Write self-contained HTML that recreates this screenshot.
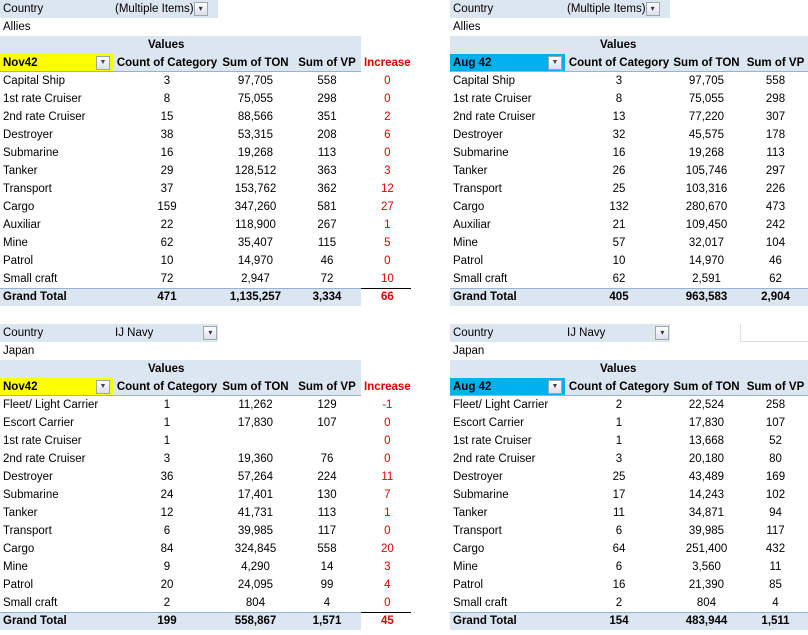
<!DOCTYPE html>
<html><head><meta charset="utf-8"><style>
body{margin:0;width:808px;height:635px;background:#fff;position:relative;overflow:hidden;font-family:"Liberation Sans",Arial,sans-serif;font-size:11.5px;color:#000}
table{position:absolute;border-collapse:collapse;table-layout:fixed;border-spacing:0}
tr{height:18px}
td{height:18px;box-sizing:border-box;padding:0 0 0 3px;white-space:nowrap;overflow:hidden;line-height:18px;text-align:center;border:none}
td.l{text-align:left}
.b{background:#dce6f1}
.bold{font-weight:bold}
.r{color:#e00000}
.hdr td{box-shadow:inset 0 -1px 0 #95b3d7}
.hdr td.inc{box-shadow:none}
.gt td{font-weight:bold;box-shadow:inset 0 1px 0 #95b3d7}
.gt td.inc{background:#fff;box-shadow:inset 0 1px 0 #000}
.y{background:#ffff00;font-weight:bold;text-align:left;position:relative}
.c{background:#00b0f0;font-weight:bold;text-align:left;position:relative}
.dd{position:absolute;right:3px;top:2px;width:12px;height:12px;border:1px solid #9aa;background:linear-gradient(#fff,#dde);font-size:7px;line-height:12px;text-align:center;color:#445}
.flt{display:inline-block;width:12px;height:12px;border:1px solid #9aa;background:linear-gradient(#fff,#dde);font-size:8px;line-height:12px;text-align:center;vertical-align:middle;color:#334}
</style></head><body>

<table style="left:0;top:0">
<colgroup><col style="width:113px"><col style="width:105px"><col style="width:72px"><col style="width:71px"><col style="width:49px"></colgroup>
<tr><td class="l b">Country</td><td class="l b" style="padding-left:2px">(Multiple Items)<span class="flt">▾</span></td><td></td><td></td><td></td></tr>
<tr><td class="l">Allies</td><td></td><td></td><td></td><td></td></tr>
<tr><td class="b"></td><td class="b bold" colspan="3" style="text-align:left;padding-left:35px">Values</td><td></td></tr>
<tr class="hdr"><td class="y">Nov42<span class="dd">▼</span></td><td class="b bold">Count of Category</td><td class="b bold">Sum of TON</td><td class="b bold">Sum of VP</td><td class="bold r inc">Increase</td></tr>
<tr><td class="l">Capital Ship</td><td>3</td><td>97,705</td><td>558</td><td class="r">0</td></tr>
<tr><td class="l">1st rate Cruiser</td><td>8</td><td>75,055</td><td>298</td><td class="r">0</td></tr>
<tr><td class="l">2nd rate Cruiser</td><td>15</td><td>88,566</td><td>351</td><td class="r">2</td></tr>
<tr><td class="l">Destroyer</td><td>38</td><td>53,315</td><td>208</td><td class="r">6</td></tr>
<tr><td class="l">Submarine</td><td>16</td><td>19,268</td><td>113</td><td class="r">0</td></tr>
<tr><td class="l">Tanker</td><td>29</td><td>128,512</td><td>363</td><td class="r">3</td></tr>
<tr><td class="l">Transport</td><td>37</td><td>153,762</td><td>362</td><td class="r">12</td></tr>
<tr><td class="l">Cargo</td><td>159</td><td>347,260</td><td>581</td><td class="r">27</td></tr>
<tr><td class="l">Auxiliar</td><td>22</td><td>118,900</td><td>267</td><td class="r">1</td></tr>
<tr><td class="l">Mine</td><td>62</td><td>35,407</td><td>115</td><td class="r">5</td></tr>
<tr><td class="l">Patrol</td><td>10</td><td>14,970</td><td>46</td><td class="r">0</td></tr>
<tr><td class="l">Small craft</td><td>72</td><td>2,947</td><td>72</td><td class="r">10</td></tr>
<tr class="gt"><td class="l b">Grand Total</td><td class="b">471</td><td class="b">1,135,257</td><td class="b">3,334</td><td class="inc r">66</td></tr>
</table>

<table style="left:450px;top:0">
<colgroup><col style="width:115px"><col style="width:105px"><col style="width:70px"><col style="width:68px"></colgroup>
<tr><td class="l b">Country</td><td class="l b" style="padding-left:2px">(Multiple Items)<span class="flt">▾</span></td><td></td><td></td></tr>
<tr><td class="l">Allies</td><td></td><td></td><td></td></tr>
<tr><td class="b"></td><td class="b bold" colspan="3" style="text-align:left;padding-left:35px">Values</td></tr>
<tr class="hdr"><td class="c">Aug 42<span class="dd">▼</span></td><td class="b bold">Count of Category</td><td class="b bold">Sum of TON</td><td class="b bold">Sum of VP</td></tr>
<tr><td class="l">Capital Ship</td><td>3</td><td>97,705</td><td>558</td></tr>
<tr><td class="l">1st rate Cruiser</td><td>8</td><td>75,055</td><td>298</td></tr>
<tr><td class="l">2nd rate Cruiser</td><td>13</td><td>77,220</td><td>307</td></tr>
<tr><td class="l">Destroyer</td><td>32</td><td>45,575</td><td>178</td></tr>
<tr><td class="l">Submarine</td><td>16</td><td>19,268</td><td>113</td></tr>
<tr><td class="l">Tanker</td><td>26</td><td>105,746</td><td>297</td></tr>
<tr><td class="l">Transport</td><td>25</td><td>103,316</td><td>226</td></tr>
<tr><td class="l">Cargo</td><td>132</td><td>280,670</td><td>473</td></tr>
<tr><td class="l">Auxiliar</td><td>21</td><td>109,450</td><td>242</td></tr>
<tr><td class="l">Mine</td><td>57</td><td>32,017</td><td>104</td></tr>
<tr><td class="l">Patrol</td><td>10</td><td>14,970</td><td>46</td></tr>
<tr><td class="l">Small craft</td><td>62</td><td>2,591</td><td>62</td></tr>
<tr class="gt"><td class="l b">Grand Total</td><td class="b">405</td><td class="b">963,583</td><td class="b">2,904</td></tr>
</table>

<table style="left:0;top:324px">
<colgroup><col style="width:113px"><col style="width:105px"><col style="width:72px"><col style="width:71px"><col style="width:49px"></colgroup>
<tr><td class="l b">Country</td><td class="l b" style="padding-left:2px">IJ Navy<span class="flt" style="margin-left:50px">▾</span></td><td></td><td></td><td></td></tr>
<tr><td class="l">Japan</td><td></td><td></td><td></td><td></td></tr>
<tr><td class="b"></td><td class="b bold" colspan="3" style="text-align:left;padding-left:35px">Values</td><td></td></tr>
<tr class="hdr"><td class="y">Nov42<span class="dd">▼</span></td><td class="b bold">Count of Category</td><td class="b bold">Sum of TON</td><td class="b bold">Sum of VP</td><td class="bold r inc">Increase</td></tr>
<tr><td class="l">Fleet/ Light Carrier</td><td>1</td><td>11,262</td><td>129</td><td class="r">-1</td></tr>
<tr><td class="l">Escort Carrier</td><td>1</td><td>17,830</td><td>107</td><td class="r">0</td></tr>
<tr><td class="l">1st rate Cruiser</td><td>1</td><td></td><td></td><td class="r">0</td></tr>
<tr><td class="l">2nd rate Cruiser</td><td>3</td><td>19,360</td><td>76</td><td class="r">0</td></tr>
<tr><td class="l">Destroyer</td><td>36</td><td>57,264</td><td>224</td><td class="r">11</td></tr>
<tr><td class="l">Submarine</td><td>24</td><td>17,401</td><td>130</td><td class="r">7</td></tr>
<tr><td class="l">Tanker</td><td>12</td><td>41,731</td><td>113</td><td class="r">1</td></tr>
<tr><td class="l">Transport</td><td>6</td><td>39,985</td><td>117</td><td class="r">0</td></tr>
<tr><td class="l">Cargo</td><td>84</td><td>324,845</td><td>558</td><td class="r">20</td></tr>
<tr><td class="l">Mine</td><td>9</td><td>4,290</td><td>14</td><td class="r">3</td></tr>
<tr><td class="l">Patrol</td><td>20</td><td>24,095</td><td>99</td><td class="r">4</td></tr>
<tr><td class="l">Small craft</td><td>2</td><td>804</td><td>4</td><td class="r">0</td></tr>
<tr class="gt"><td class="l b">Grand Total</td><td class="b">199</td><td class="b">558,867</td><td class="b">1,571</td><td class="inc r">45</td></tr>
</table>

<table style="left:450px;top:324px">
<colgroup><col style="width:115px"><col style="width:105px"><col style="width:70px"><col style="width:68px"></colgroup>
<tr><td class="l b">Country</td><td class="l b" style="padding-left:2px">IJ Navy<span class="flt" style="margin-left:50px">▾</span></td><td></td><td style="box-shadow:inset 1px 0 0 #ddd,inset 0 -1px 0 #ddd"></td></tr>
<tr><td class="l">Japan</td><td></td><td></td><td></td></tr>
<tr><td class="b"></td><td class="b bold" colspan="3" style="text-align:left;padding-left:35px">Values</td></tr>
<tr class="hdr"><td class="c">Aug 42<span class="dd">▼</span></td><td class="b bold">Count of Category</td><td class="b bold">Sum of TON</td><td class="b bold">Sum of VP</td></tr>
<tr><td class="l">Fleet/ Light Carrier</td><td>2</td><td>22,524</td><td>258</td></tr>
<tr><td class="l">Escort Carrier</td><td>1</td><td>17,830</td><td>107</td></tr>
<tr><td class="l">1st rate Cruiser</td><td>1</td><td>13,668</td><td>52</td></tr>
<tr><td class="l">2nd rate Cruiser</td><td>3</td><td>20,180</td><td>80</td></tr>
<tr><td class="l">Destroyer</td><td>25</td><td>43,489</td><td>169</td></tr>
<tr><td class="l">Submarine</td><td>17</td><td>14,243</td><td>102</td></tr>
<tr><td class="l">Tanker</td><td>11</td><td>34,871</td><td>94</td></tr>
<tr><td class="l">Transport</td><td>6</td><td>39,985</td><td>117</td></tr>
<tr><td class="l">Cargo</td><td>64</td><td>251,400</td><td>432</td></tr>
<tr><td class="l">Mine</td><td>6</td><td>3,560</td><td>11</td></tr>
<tr><td class="l">Patrol</td><td>16</td><td>21,390</td><td>85</td></tr>
<tr><td class="l">Small craft</td><td>2</td><td>804</td><td>4</td></tr>
<tr class="gt"><td class="l b">Grand Total</td><td class="b">154</td><td class="b">483,944</td><td class="b">1,511</td></tr>
</table>
</body></html>
